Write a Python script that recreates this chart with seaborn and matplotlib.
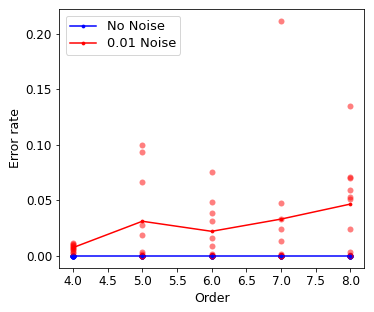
import matplotlib
matplotlib.use("Agg")
import matplotlib.pyplot as plt
import seaborn as sns
import pandas as pd
import numpy as np

orders = [4, 5, 6, 7, 8]
noise_errors = {
    4: [0.012, 0.011, 0.010, 0.009, 0.008, 0.007, 0.006, 0.005, 0.004, 0.003],
    5: [0.100, 0.094, 0.067, 0.0275, 0.019, 0.0036, 0.0015, 0.0, 0.0, 0.0],
    6: [0.0754, 0.0482, 0.0383, 0.0318, 0.0162, 0.009, 0.002, 0.001, 0.0, 0.0],
    7: [0.2116, 0.0473, 0.033, 0.024, 0.0138, 0.002, 0.0005, 0.0, 0.0, 0.0],
    8: [0.1347, 0.0709, 0.070, 0.059, 0.0533, 0.051, 0.024, 0.0036, 0.001, 0.0],
}
no_noise_errors = {o: [0.0] * 10 for o in orders}

rows_n = [(o, v) for o in orders for v in noise_errors[o]]
rows_c = [(o, v) for o in orders for v in no_noise_errors[o]]
df_n = pd.DataFrame(rows_n, columns=["Order", "Error rate"])
df_c = pd.DataFrame(rows_c, columns=["Order", "Error rate"])

plt.rcParams["font.size"] = 12
DPI = 72
fig = plt.figure(figsize=(374 / DPI, 312 / DPI), dpi=DPI)
ax = fig.add_axes([0.158, 0.142, 0.816, 0.828])

sns.scatterplot(data=df_c, x="Order", y="Error rate", color="blue", alpha=0.5,
                s=36, linewidth=0, legend=False, ax=ax)
sns.scatterplot(data=df_n, x="Order", y="Error rate", color="red", alpha=0.5,
                s=36, linewidth=0, legend=False, ax=ax)
sns.lineplot(data=df_c, x="Order", y="Error rate", color="blue", marker=".",
             markeredgecolor="blue", errorbar=None, label="No Noise", ax=ax)
sns.lineplot(data=df_n, x="Order", y="Error rate", color="red", marker=".",
             markeredgecolor="red", errorbar=None, label="0.01 Noise", ax=ax)

ax.set_xticks(np.arange(4.0, 8.01, 0.5))
ax.set_yticks(np.arange(0.0, 0.201, 0.05))
ax.legend(loc="upper left", fontsize=13, labelspacing=0.3, borderpad=0.35)
ax.set_xlabel("Order", fontsize=12.5)
ax.set_ylabel("Error rate", fontsize=12.5)

fig.savefig("out.png", dpi=DPI)
